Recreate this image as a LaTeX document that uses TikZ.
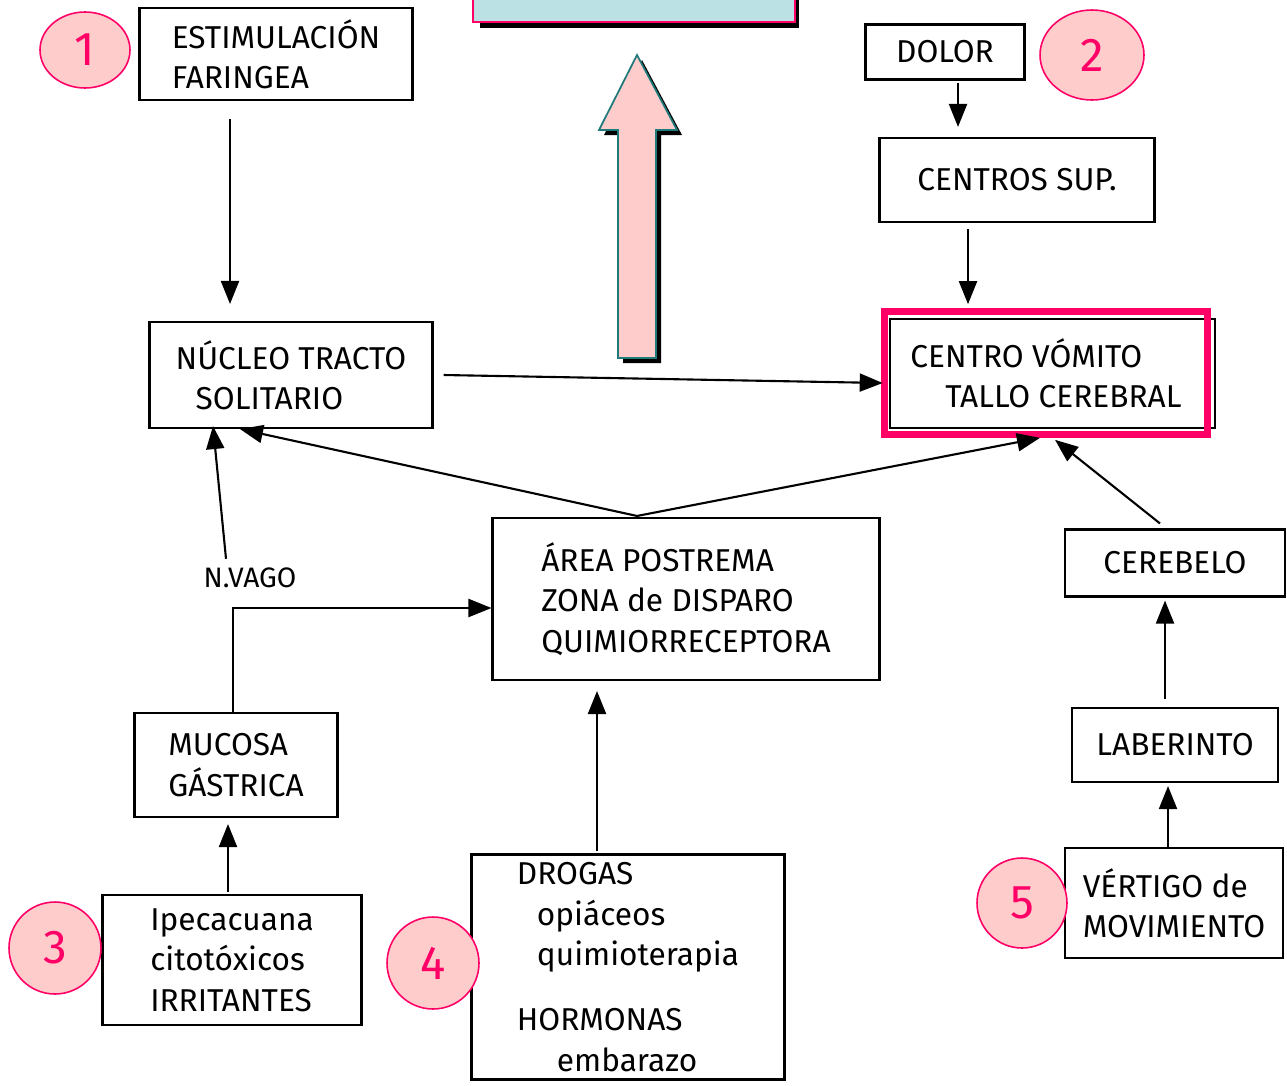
\documentclass[tikz,border=0pt]{standalone}
\usepackage{fontspec}
\setmainfont{Fira Sans}
\usetikzlibrary{arrows.meta,calc,shapes.geometric}

\definecolor{numpink}{HTML}{FF0066}
\definecolor{numfill}{HTML}{FFCCCC}
\definecolor{boxcyan}{HTML}{BCE1E4}
\definecolor{arrowteal}{HTML}{1F7A7A}

\tikzset{
  caja/.style={draw, line width=1.2pt, align=left, inner sep=0pt,
    font=\fontsize{18}{23}\selectfont},
  num/.style={ellipse, draw=numpink, fill=numfill, line width=0.9pt,
    inner sep=0pt, text=numpink, font=\fontsize{27}{30}\selectfont},
  flecha/.style={line width=1.2pt, -{Triangle[length=0.46cm,width=0.36cm]}},
}

\begin{document}
\begin{tikzpicture}[x=0.02cm, y=-0.02cm]
  \useasboundingbox (0,0) rectangle (1287,1085);

  % title box at the top, cut by the edge
  \fill[black] (480,-10) rectangle (799,28);
  \draw[numpink, fill=boxcyan, line width=0.8pt] (473,-10) rectangle (795,22);

  % big block arrow
  \fill[black, shift={(5,5)}] (637,55) -- (677,130) -- (656,130) -- (656,358)
    -- (618,358) -- (618,130) -- (599,130) -- cycle;
  \draw[arrowteal, fill=numfill, line width=1pt] (637,55) -- (677,130) -- (656,130)
    -- (656,358) -- (618,358) -- (618,130) -- (599,130) -- cycle;

  % boxes
  \node[caja, minimum width=5.46cm, minimum height=1.84cm] (estim) at (276,54)
    {ESTIMULACIÓN\\ FARINGEA};
  \node[caja, minimum width=3.18cm, minimum height=1.1cm] (dolor) at (945,52) {DOLOR};
  \node[caja, minimum width=5.5cm, minimum height=1.68cm] (centros) at (1017,180)
    {CENTROS SUP.};
  \node[align=left, inner sep=0pt, font=\fontsize{18}{23}\selectfont,
    minimum width=6.44cm, minimum height=2.46cm] (vomito) at (1046,373)
    {CENTRO VÓMITO\\ \hspace{0.7cm}TALLO CEREBRAL};
  \draw[line width=1.2pt] ($(vomito.north west)+(5,8)$) rectangle ($(vomito.south east)+(8,-7)$);
  \draw[numpink, line width=4pt] (vomito.north west) rectangle (vomito.south east);
  \node[caja, minimum width=5.66cm, minimum height=2.12cm] (nucleo) at (291,375)
    {NÚCLEO TRACTO\\ \hspace{0.4cm}SOLITARIO};
  \node[caja, minimum width=7.74cm, minimum height=3.24cm] (area) at (686,599)
    {ÁREA POSTREMA\\ ZONA de DISPARO\\ QUIMIORRECEPTORA};
  \node[caja, minimum width=4.4cm, minimum height=1.34cm] (cerebelo) at (1175,563) {CEREBELO};
  \node[caja, minimum width=4.12cm, minimum height=1.48cm] (laberinto) at (1175,745) {LABERINTO};
  \node[caja, minimum width=4.36cm, minimum height=2.2cm] (vertigo) at (1174,903)
    {VÉRTIGO de\\ MOVIMIENTO};
  \node[caja, minimum width=4.06cm, minimum height=2.08cm] (mucosa) at (236,765)
    {MUCOSA\\ GÁSTRICA};
  \node[caja, minimum width=5.18cm, minimum height=2.6cm] (ipeca) at (232,960)
    {Ipecacuana\\ citotóxicos\\ IRRITANTES};
  \node[caja, minimum width=6.26cm, minimum height=4.5cm] (drogas) at (628,967)
    {DROGAS\\ \hspace{0.4cm}opiáceos\\ \hspace{0.4cm}quimioterapia\\[0.5cm]
     HORMONAS\\ \hspace{0.8cm}embarazo};
  \node[font=\fontsize{16}{18}\selectfont] (nvago) at (250,578) {N.VAGO};

  % numbers
  \node[num, minimum width=1.8cm, minimum height=1.52cm] (n1) at (85,50) {1};
  \node[num, minimum width=2.08cm, minimum height=1.8cm] (n2) at (1092,55) {2};
  \node[num, minimum width=1.84cm, minimum height=1.84cm] (n3) at (55,948) {3};
  \node[num, minimum width=1.84cm, minimum height=1.84cm] (n4) at (433,963) {4};
  \node[num, minimum width=1.8cm, minimum height=1.8cm] (n5) at (1022,903) {5};

  % connectors
  \draw[flecha] ($(estim.south)+(-46,18)$) -- ($(nucleo.north)+(-61,-17)$);
  \draw[flecha] ($(dolor.south)+(13,2)$) -- ($(centros.north)+(-59,-10)$);
  \draw[flecha] ($(centros.south)+(-49,6)$) -- ($(vomito.north)+(-78,-7)$);
  \draw[flecha] ($(nucleo.east)+(10,0)$) -- ($(vomito.west)+(-2,10)$);
  \draw[flecha] ($(area.north)+(-49,-1)$) -- ($(nucleo.south)+(-51,0)$);
  \draw[flecha] ($(area.north)+(-49,-1)$) -- ($(vomito.south)+(-6,3)$);
  \draw[flecha] ($(cerebelo.north)+(-15,-5)$) -- ($(vomito.south)+(9,5)$);
  \draw[flecha] ($(laberinto.north)+(-10,-8)$) -- ($(cerebelo.south)+(-10,3)$);
  \draw[flecha] ($(vertigo.north)+(-6,2)$) -- ($(laberinto.south)+(-7,3)$);
  \draw[flecha] ($(ipeca.north)+(-4,-2)$) -- ($(mucosa.south)+(-8,6)$);
  \draw[flecha] ($(drogas.north)+(-31,-2)$) -- ($(area.south)+(-89,10)$);
  \draw[flecha] ($(mucosa.north)+(-3,0)$) |- ($(area.west)+(0,9)$);
  \draw[flecha] ($(nvago.north)+(-24,-3)$) -- ($(nucleo.south)+(-78,-3)$);
\end{tikzpicture}
\end{document}
